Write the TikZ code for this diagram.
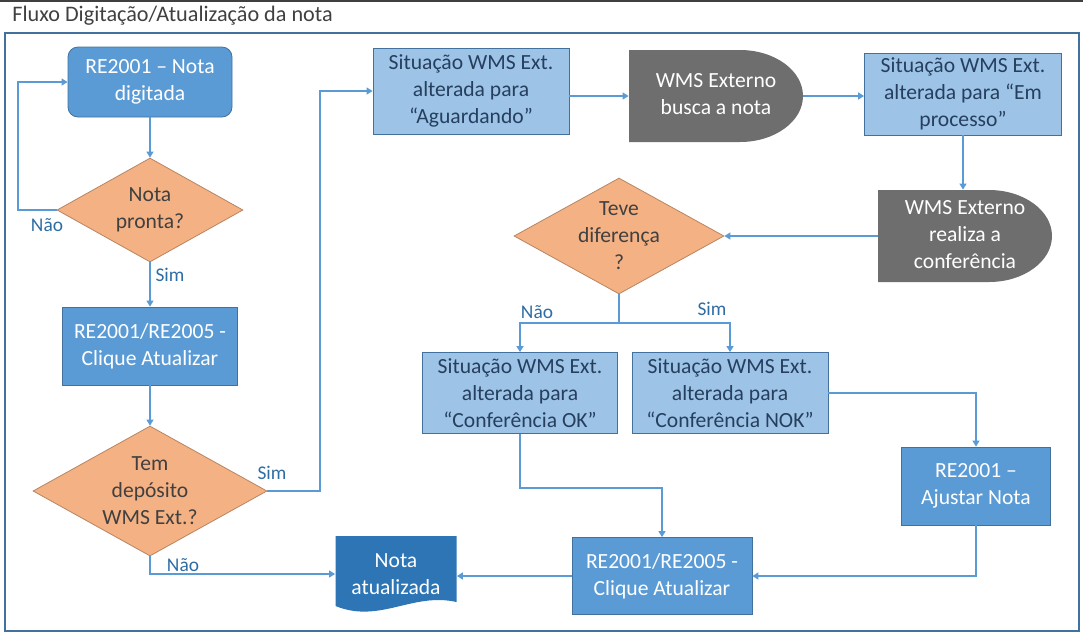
\documentclass[tikz,border=0pt]{standalone}
\usepackage{fontspec}
\setmainfont{Carlito}
\usetikzlibrary{shapes.geometric,arrows.meta}

\definecolor{midblue}{HTML}{5B9BD5}
\definecolor{lightblue}{HTML}{9DC3E6}
\definecolor{edgeblue}{HTML}{41719C}
\definecolor{docblue}{HTML}{2E75B6}
\definecolor{orangefill}{HTML}{F4B183}
\definecolor{wmsgray}{HTML}{6E6E6E}
\definecolor{textgray}{HTML}{404040}
\definecolor{darktext}{HTML}{263F5E}
\definecolor{labelblue}{HTML}{2E6DA4}

\tikzset{
  base/.style={font=\fontsize{10.8}{13.5}\selectfont, align=center, inner sep=0pt},
  actbox/.style={base, rectangle, draw=edgeblue, line width=0.4pt, fill=midblue, text=white},
  sitbox/.style={base, rectangle, draw=edgeblue, line width=0.4pt, fill=lightblue, text=darktext},
  decision/.style={base, diamond, aspect=1.8, draw=orangefill!75!black, line width=0.4pt, fill=orangefill, text=textgray},
  wmsbox/.style={font=\fontsize{10.8}{13.5}\selectfont, inner sep=0pt, rectangle, text=white,
    minimum width=87pt, minimum height=46pt,
    path picture={\fill[wmsgray] (path picture bounding box.south west) -- (path picture bounding box.north west)
      -- ([xshift=-31.5pt]path picture bounding box.north east)
      arc[start angle=90, end angle=-90, x radius=31.5pt, y radius=23pt] -- cycle;}},
  docbox/.style={base, rectangle, text=white, minimum width=60.5pt, minimum height=38pt,
    path picture={\fill[docblue] ([yshift=3pt]path picture bounding box.south west) -- (path picture bounding box.north west)
      -- (path picture bounding box.north east) -- ([yshift=5pt]path picture bounding box.south east)
      .. controls ([xshift=-22pt,yshift=10pt]path picture bounding box.south east)
      and ([xshift=22pt,yshift=-6pt]path picture bounding box.south west)
      .. ([yshift=3pt]path picture bounding box.south west) -- cycle;}},
  flow/.style={draw=midblue, line width=0.6pt, -{Triangle[length=3pt,width=3.5pt]}},
  answer/.style={font=\fontsize{9.7}{11}\selectfont, text=labelblue, inner sep=1pt},
}

\begin{document}
\begin{tikzpicture}[x=0.5pt,y=-0.5pt]
\useasboundingbox (0,0) rectangle (1083,634);
\draw[black!75, line width=0.6pt] (0,1) -- (1083,1);
\node[anchor=west, font=\fontsize{11.1}{13}\selectfont, text=textgray, inner sep=0pt] (title) at (12,16) {Fluxo Digitação/Atualização da nota};
\draw[edgeblue, line width=1pt] (5,33) rectangle (1079,631);

% left column
\node[actbox, rounded corners=5pt, minimum width=82pt, minimum height=35pt] (digitada) at (150,82) {RE2001 – Nota\\digitada};
\node[decision, minimum width=93pt, minimum height=52pt] (pronta) at (150,210) {Nota\\pronta?};
\node[actbox, minimum width=87.5pt, minimum height=39pt] (atualizar) at (150,346) {RE2001/RE2005 -\\Clique Atualizar};
\node[decision, minimum width=117pt, minimum height=65pt] (deposito) at (150,491) {Tem\\depósito\\WMS Ext.?};
\node[docbox] (atualizada) at (396,574) {Nota\\atualizada};

% WMS side
\node[sitbox, minimum width=98pt, minimum height=43pt] (aguardando) at (471,91) {Situação WMS Ext.\\alterada para\\“Aguardando”};
\node[wmsbox] (busca) at (716,96) {\begin{tabular}{@{}c@{}}WMS Externo\\busca a nota\end{tabular}\hspace{13pt}};
\node[sitbox, minimum width=98.5pt, minimum height=41pt] (processo) at (963,94) {Situação WMS Ext.\\alterada para “Em\\processo”};
\node[wmsbox] (conferencia) at (965,236) {\begin{tabular}{@{}c@{}}WMS Externo\\realiza a\\conferência\end{tabular}\hspace{14pt}};
\node[decision, minimum width=105pt, minimum height=58pt] (diferenca) at (619,236) {Teve\\diferença\\?};
\node[sitbox, minimum width=97.5pt, minimum height=40.5pt] (confok) at (520,393) {Situação WMS Ext.\\alterada para\\“Conferência OK”};
\node[sitbox, minimum width=98pt, minimum height=40.5pt] (confnok) at (730,393) {Situação WMS Ext.\\alterada para\\“Conferência NOK”};
\node[actbox, minimum width=74.5pt, minimum height=39pt] (ajustar) at (976,486) {RE2001 –\\Ajustar Nota};
\node[actbox, minimum width=90pt, minimum height=38.5pt] (atualizar2) at (662,576) {RE2001/RE2005 -\\Clique Atualizar};

\coordinate (loopx) at (18,0);
\coordinate (jogx) at (320,0);
\coordinate (split) at (619,323);
\coordinate (okbend) at (0,488);

\draw[flow] (digitada) -- (pronta);
\draw[flow] (pronta.west) -- (pronta.west -| loopx) |- (digitada.west);
\draw[flow] (pronta) -- (atualizar);
\draw[flow] (atualizar) -- (deposito);
\draw[flow] (deposito.east) -- (deposito.east -| jogx) |- (aguardando.west);
\draw[flow] (deposito.south) |- (atualizada.west);
\draw[flow] (aguardando.east |- busca.west) -- (busca.west);
\draw[flow] (busca.east) -- (processo.west |- busca.east);
\draw[flow] (processo.south) -- (processo.south |- conferencia.north);
\draw[flow] (conferencia.west) -- (diferenca.east);
\draw[draw=midblue, line width=0.6pt] (diferenca.south) -- (split);
\draw[flow] (split) -| (confok.north);
\draw[flow] (split) -| (confnok.north);
\draw[flow] (confnok.east) -| (ajustar.north);
\draw[flow] (ajustar.south) |- (atualizar2.east);
\draw[flow] (confok.south) -- (confok.south |- okbend) -| (atualizar2.north);
\draw[flow] (atualizar2.west) -- (atualizar2.west -| atualizada.east);

\node[answer] (naopronta) at (47,225) {Não};
\node[answer] (simpronta) at (170,275) {Sim};
\node[answer] (simdeposito) at (272,473) {Sim};
\node[answer] (naodeposito) at (183,565) {Não};
\node[answer] (naodif) at (537,312) {Não};
\node[answer] (simdif) at (712,309) {Sim};
\end{tikzpicture}
\end{document}
